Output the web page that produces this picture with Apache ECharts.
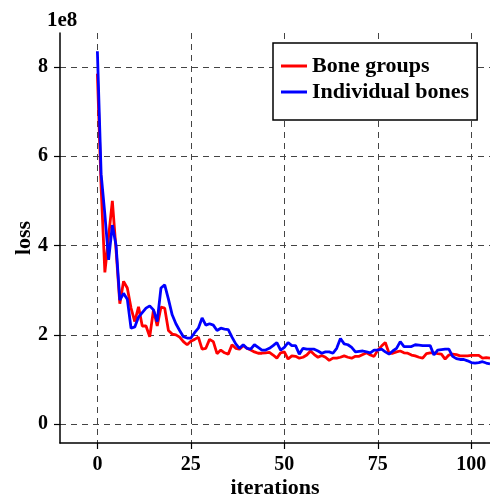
<!DOCTYPE html>
<html lang="en">
<head>
    <meta charset="UTF-8">
    <title>loss</title>
    <script src="https://cdn.jsdelivr.net/npm/echarts@6/dist/echarts.min.js"></script>
    <style>
        *{
            margin: 0;
            padding: 0;
        }
        html,body{
            width: 100%;
            height: 100%;
            background: #fff;
        }
        .container{
            width: 490px;
            height: 498px;
        }
    </style>
</head>
<body>
<div class="container"></div>
<script>
    // values in units of 1e8
    let boneGroups=[7.85,5.3,3.4,4.2,5.0,3.9,2.7,3.2,3.05,2.6,
        2.3,2.63,2.2,2.2,1.96,2.56,2.2,2.62,2.6,2.1,
        2.02,2.0,1.95,1.85,1.78,1.86,1.9,1.95,1.68,1.7,
        1.9,1.85,1.58,1.66,1.6,1.57,1.78,1.7,1.68,1.76,
        1.7,1.66,1.62,1.59,1.59,1.6,1.61,1.55,1.48,1.6,
        1.62,1.46,1.53,1.52,1.48,1.5,1.55,1.64,1.56,1.5,
        1.54,1.5,1.43,1.48,1.48,1.5,1.53,1.5,1.48,1.52,
        1.52,1.56,1.6,1.55,1.52,1.66,1.75,1.83,1.59,1.59,
        1.62,1.64,1.6,1.59,1.55,1.53,1.5,1.48,1.58,1.6,
        1.6,1.58,1.57,1.46,1.55,1.57,1.56,1.53,1.53,1.53,
        1.54,1.54,1.54,1.48,1.49,1.48];
    let individualBones=[8.35,5.6,4.7,3.68,4.46,4.0,2.78,2.93,2.8,2.15,
        2.18,2.4,2.5,2.6,2.65,2.56,2.3,3.05,3.12,2.8,
        2.45,2.25,2.1,1.96,1.93,1.93,2.05,2.15,2.38,2.22,
        2.25,2.22,2.1,2.15,2.13,2.12,1.95,1.8,1.7,1.78,
        1.7,1.68,1.78,1.72,1.66,1.66,1.7,1.76,1.83,1.66,
        1.72,1.83,1.76,1.76,1.57,1.7,1.68,1.68,1.68,1.64,
        1.59,1.62,1.62,1.59,1.7,1.92,1.8,1.78,1.72,1.62,
        1.63,1.64,1.62,1.6,1.66,1.66,1.68,1.62,1.57,1.64,
        1.7,1.85,1.74,1.74,1.74,1.78,1.77,1.76,1.76,1.76,
        1.55,1.66,1.67,1.68,1.68,1.52,1.47,1.45,1.45,1.42,
        1.38,1.37,1.38,1.4,1.37,1.35];
    let xTicks=[0,25,50,75,100];
    let yTicks=[0,2,4,6,8];

    let font='Liberation Serif';
    let toPairs=arr=>arr.map((v,i)=>[i,v]);

    let chart=echarts.init(document.querySelector('.container'));
    let axisCommon={
        axisLine: {onZero: false, lineStyle: {color: '#000', width: 1.5}},
        axisTick: {show: true, inside: false, length: 6, lineStyle: {color: '#000', width: 1.2}},
        axisLabel: {color: '#000', fontFamily: font, fontWeight: 'bold', fontSize: 20},
        splitLine: {show: true, lineStyle: {color: '#444', width: 1, type: [6, 5]}},
        nameMoveOverlap: false,
        nameTextStyle: {color: '#000', fontFamily: font, fontWeight: 'bold', fontSize: 22}
    };

    let option={
        animation: false,
        backgroundColor: '#fff',
        title: {
            text: '1e8',
            left: 42,
            top: 5,
            textStyle: {color: '#000', fontFamily: font, fontWeight: 'bold', fontSize: 21}
        },
        grid: {left: 60, right: 0, top: 33, bottom: 55, outerBoundsMode: 'none', containLabel: false},
        legend: {
            orient: 'vertical',
            left: 273,
            top: 43,
            padding: [12, 8, 17, 8],
            itemGap: 4,
            itemWidth: 26,
            itemHeight: 3,
            icon: 'rect',
            borderColor: '#000',
            borderWidth: 1.5,
            borderRadius: 0,
            backgroundColor: '#fff',
            textStyle: {color: '#000', fontFamily: font, fontWeight: 'bold', fontSize: 22},
            data: ['Bone groups', 'Individual bones']
        },
        xAxis: Object.assign({}, axisCommon, {
            type: 'value',
            min: -10,
            max: 105,
            name: 'iterations',
            nameLocation: 'middle',
            nameGap: 34,
            axisTick: Object.assign({}, axisCommon.axisTick, {customValues: xTicks}),
            axisLabel: Object.assign({}, axisCommon.axisLabel, {customValues: xTicks, margin: 12})
        }),
        yAxis: Object.assign({}, axisCommon, {
            type: 'value',
            min: -0.42,
            max: 8.76,
            name: 'loss',
            nameLocation: 'middle',
            nameGap: 25,
            axisTick: Object.assign({}, axisCommon.axisTick, {customValues: yTicks}),
            axisLabel: Object.assign({}, axisCommon.axisLabel, {customValues: yTicks, margin: 12})
        }),
        series: [
            {
                name: 'Bone groups',
                type: 'line',
                data: toPairs(boneGroups),
                symbol: 'none',
                itemStyle: {color: '#ff0000'},
                lineStyle: {color: '#ff0000', width: 2.8}
            },
            {
                name: 'Individual bones',
                type: 'line',
                data: toPairs(individualBones),
                symbol: 'none',
                itemStyle: {color: '#0000ff'},
                lineStyle: {color: '#0000ff', width: 2.8}
            }
        ]
    };
    chart.setOption(option);
</script>
</body>
</html>
